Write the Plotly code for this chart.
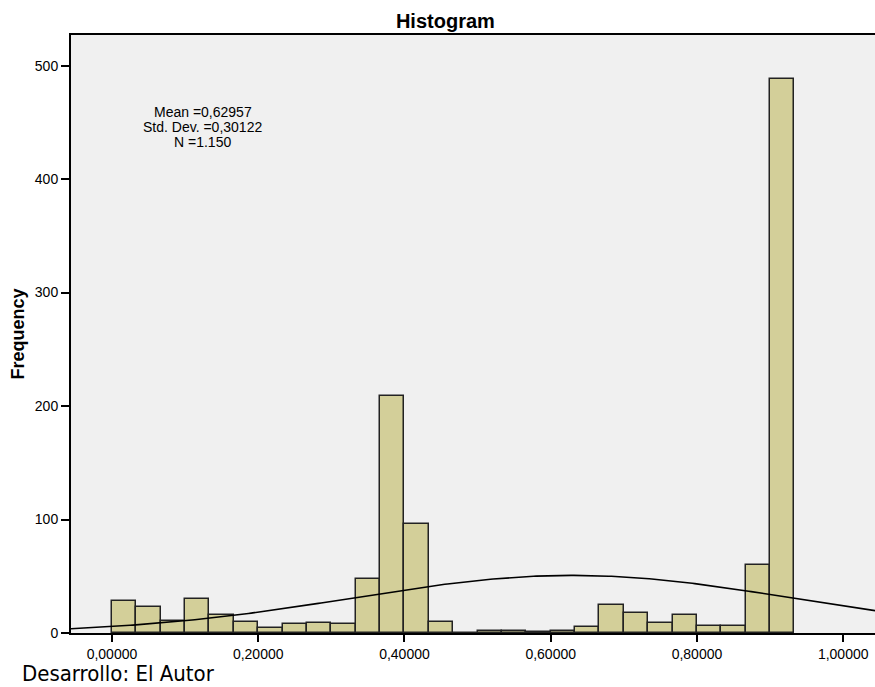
import numpy as np
import plotly.graph_objects as go

# Histogram data (bin width = 1/30, starting at 0)
bin_width = 1.0 / 30.0
bin_starts = [k / 30.0 for k in range(28)]
counts = [28, 23, 11, 30, 16, 10, 4, 8, 9, 8,
          48, 209, 96, 10, 0, 2, 2, 1, 2, 5,
          25, 18, 9, 16, 6, 6, 60, 488]

# Summary statistics shown on the chart
mean_val = 0.62957
sd_val = 0.30122
n_val = 1150

x_tick_vals = [0.0, 0.2, 0.4, 0.6, 0.8, 1.0]
x_tick_text = ["0,00000", "0,20000", "0,40000", "0,60000", "0,80000", "1,00000"]
y_tick_vals = [0, 100, 200, 300, 400, 500]

x_range = [-0.056, 1.0435]
y_range = [0, 527]

FONT = "Arial, Liberation Sans, sans-serif"

centers = [s + bin_width / 2 for s in bin_starts]

# Fitted normal curve from the stated mean / sd / N
xc = np.linspace(x_range[0], x_range[1], 300)
yc = n_val * bin_width / (sd_val * np.sqrt(2 * np.pi)) * np.exp(-0.5 * ((xc - mean_val) / sd_val) ** 2)

fig = go.Figure()
fig.add_trace(go.Bar(
    x=centers, y=counts, width=bin_width,
    marker=dict(color="#D3CF99", line=dict(color="#222222", width=1.5)),
    hoverinfo="x+y", showlegend=False,
))
fig.add_trace(go.Scatter(
    x=xc, y=yc, mode="lines",
    line=dict(color="black", width=1.6),
    hoverinfo="skip", showlegend=False,
))

fig.update_layout(
    width=875, height=687,
    margin=dict(l=71, r=0, t=35, b=54),
    paper_bgcolor="white",
    plot_bgcolor="#F0F0F0",
    bargap=0,
    font=dict(family=FONT, color="black", size=14),
    title=dict(text="<b>Histogram</b>", x=0.509, xref="container", xanchor="center",
               y=0.97, yref="container", yanchor="middle",
               font=dict(family=FONT, size=20, color="black")),
    xaxis=dict(
        range=x_range, tickvals=x_tick_vals, ticktext=x_tick_text,
        showgrid=False, zeroline=False,
        showline=True, linecolor="black", linewidth=2, mirror=True,
        ticks="outside", ticklen=7, tickwidth=2, tickcolor="black",
        tickfont=dict(family=FONT, size=14, color="black"),
    ),
    yaxis=dict(
        range=y_range, tickvals=y_tick_vals,
        showgrid=False, zeroline=False,
        showline=True, linecolor="black", linewidth=2,
        ticks="outside", ticklen=8, tickwidth=2, tickcolor="black",
        tickfont=dict(family=FONT, size=14, color="black"),
        title=dict(text="<b>Frequency</b>", font=dict(family=FONT, size=18, color="black"),
                   standoff=6),
    ),
)

stats_lines = ["Mean =0,62957", "Std. Dev. =0,30122", "N =1.150"]
stats_y = [0.871, 0.846, 0.821]
for txt, yy in zip(stats_lines, stats_y):
    fig.add_annotation(text=txt, x=0.164, y=yy, xref="paper", yref="paper",
                       xanchor="center", yanchor="middle", showarrow=False,
                       font=dict(family=FONT, size=14, color="black"))

fig.add_annotation(text="Desarrollo: El Autor", x=(20 - 71) / 804, y=-(673 - 633) / 598,
                   xref="paper", yref="paper", xanchor="left", yanchor="middle",
                   showarrow=False,
                   font=dict(family="Liberation Sans Narrow, DejaVu Sans Condensed, Arial Narrow, sans-serif",
                             size=22, color="black"))

fig.write_html("out.html", config={"displayModeBar": False},
               post_script="document.body.style.margin='0';document.body.style.overflow='hidden';")
